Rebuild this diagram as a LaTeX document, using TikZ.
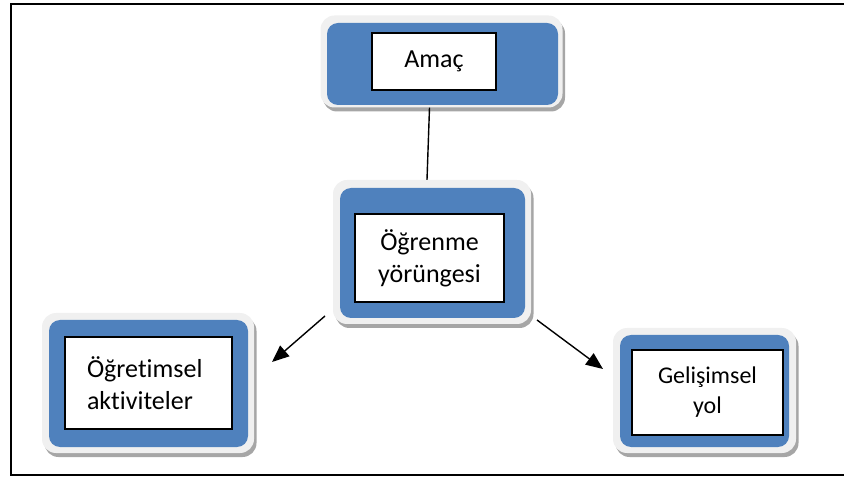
\documentclass[tikz,border=0pt]{standalone}
\usepackage{fontspec}
\setmainfont{Carlito}[Ligatures={NoCommon}]
\usetikzlibrary{arrows.meta,shadows}
\definecolor{boxblue}{RGB}{79,129,189}
\definecolor{rimgray}{RGB}{240,240,240}
\begin{document}
\begin{tikzpicture}[x=1pt,y=-1pt,
 outerbox/.style={draw=none, fill=rimgray, rounded corners=14pt, inner sep=0,
   drop shadow={shadow xshift=2.5pt, shadow yshift=-4pt, fill=black!50, opacity=0.7}},
 bluebox/.style={fill=boxblue, rounded corners=11pt, inner sep=0},
 whitebox/.style={draw=black, line width=1.3pt, fill=white, inner sep=0, align=center,
   font=\fontsize{26}{32}\selectfont},
 conn/.style={line width=1.4pt},
 arr/.style={conn, -{Triangle[length=17pt,width=14pt]}}]
\useasboundingbox (0,0) rectangle (844,478);
\draw[line width=2pt] (846,4) -- (11,4) -- (11,475) -- (846,475);

% Amac
\node[outerbox, minimum width=242pt, minimum height=92pt] (amacG) at (441.5,61.5) {};
\node[bluebox, minimum width=231pt, minimum height=82pt] (amacB) at (442.5,64) {};
\node[whitebox, minimum width=124pt, minimum height=57pt] (amac) at (434,61.5) {Amaç};

% Center
\node[outerbox, minimum width=198pt, minimum height=144pt] (centerG) at (432,252) {};
\node[bluebox, minimum width=185pt, minimum height=130pt] (centerB) at (432.5,253) {};
\node[whitebox, minimum width=149pt, minimum height=88pt] (center) at (429.5,258) {Öğrenme\\yörüngesi};

% Left
\node[outerbox, minimum width=212pt, minimum height=140pt] (leftG) at (148,383) {};
\node[bluebox, minimum width=199pt, minimum height=127pt] (leftB) at (148.5,383.5) {};
\node[whitebox, align=left, inner xsep=22pt, text width=123pt, minimum height=92pt] (left) at (148.5,383) {Öğretimsel\\aktiviteler};

% Right
\node[outerbox, minimum width=183pt, minimum height=125pt] (rightG) at (704.5,390.5) {};
\node[bluebox, minimum width=169pt, minimum height=112pt] (rightB) at (704.5,391) {};
\node[whitebox, minimum width=151pt, minimum height=85pt, font=\fontsize{24}{30}\selectfont] (right) at (707.5,392.5) {Gelişimsel\\yol};

% connectors
\coordinate (la) at (325,316);
\coordinate (lb) at (272,362);
\coordinate (ra) at (537,320);
\coordinate (rb) at (603,369);
\draw[conn] ([xshift=-12pt]amacG.south) -- ([xshift=-5pt]centerG.north);
\draw[arr] (la) -- (lb);
\draw[arr] (ra) -- (rb);
\end{tikzpicture}
\end{document}
